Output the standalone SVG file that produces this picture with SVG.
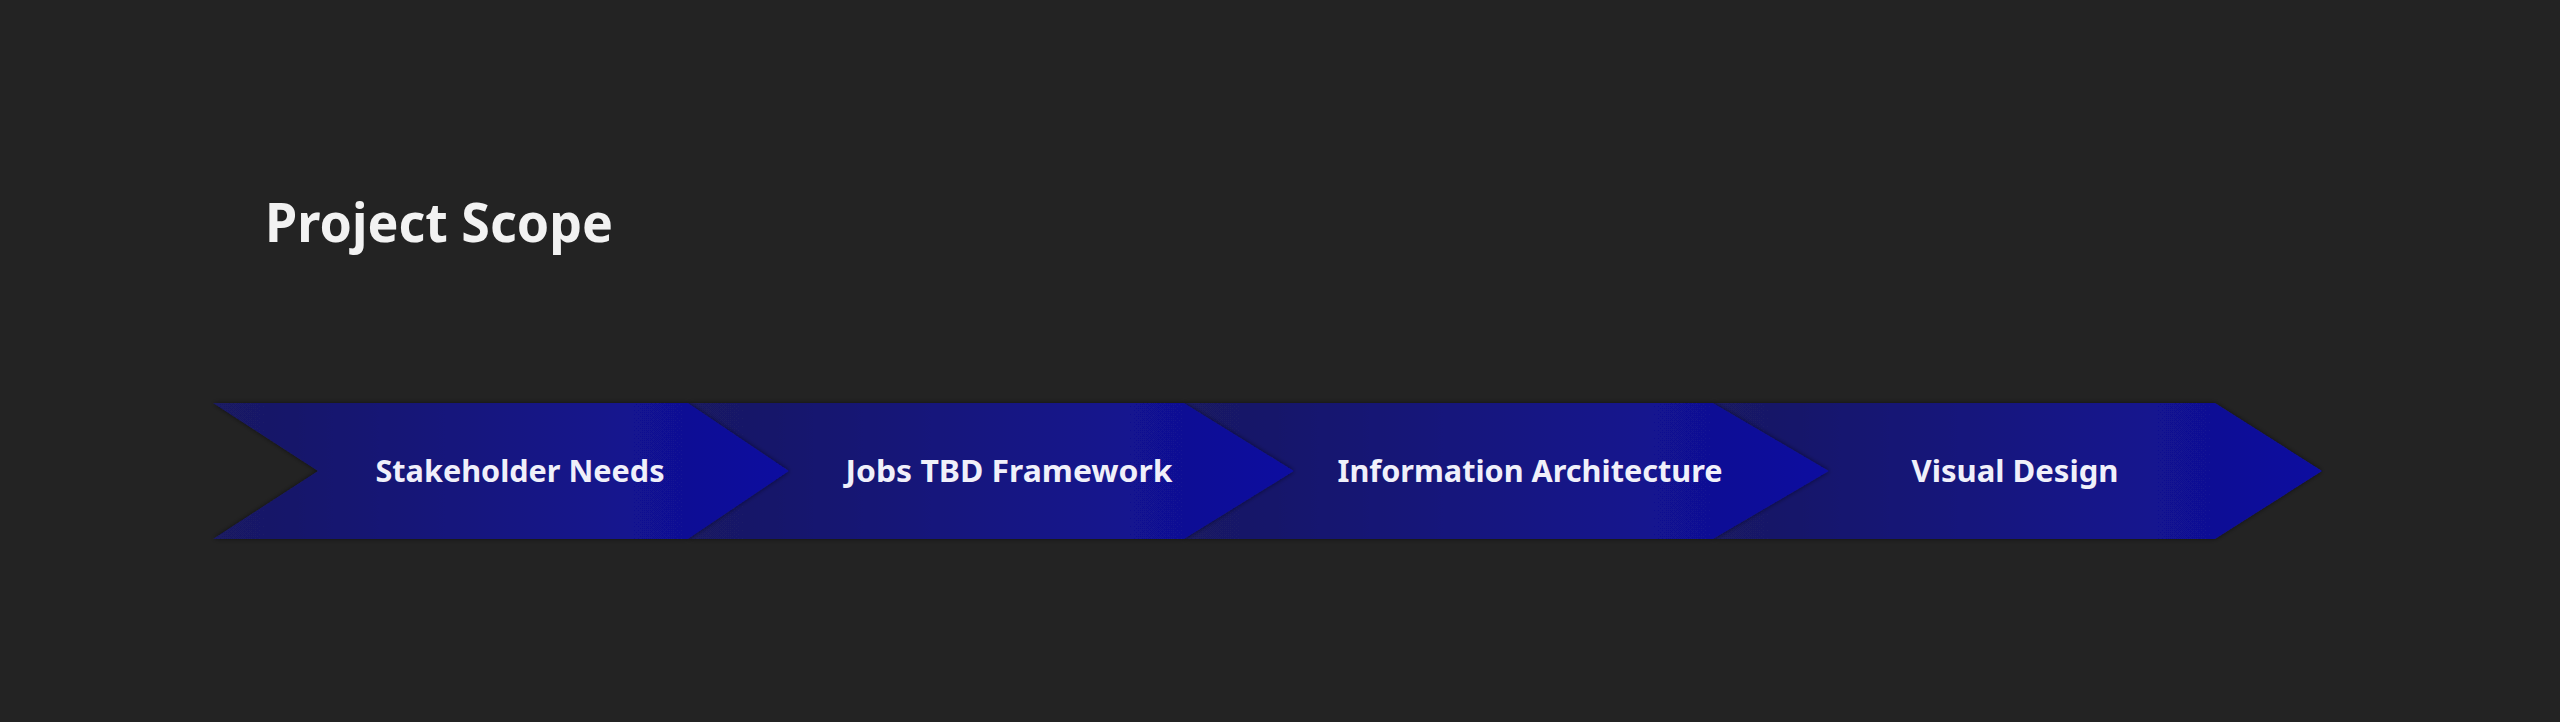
<svg xmlns="http://www.w3.org/2000/svg" width="2560" height="722" viewBox="0 0 2560 722">
  <defs>
    <style>
      .title { font-family: "Noto Sans", "Open Sans", "Liberation Sans", sans-serif; font-weight: 700; font-size: 54px; fill: #f2f2f2; }
      .label { font-family: "Noto Sans", "Open Sans", "Liberation Sans", sans-serif; font-weight: 700; font-size: 31px; fill: #f0f0fa; text-anchor: middle; }
      .chev { filter: url(#shadow); }
    </style>
    <filter id="shadow" x="-5%" y="-20%" width="110%" height="140%">
      <feDropShadow dx="0" dy="0" stdDeviation="2.5" flood-color="#000000" flood-opacity="0.55"/>
    </filter>
    <linearGradient id="g1" gradientUnits="userSpaceOnUse" x1="213" y1="0" x2="789" y2="0">
      <stop offset="0" stop-color="#1a1a62"/>
      <stop offset="1" stop-color="#0f0fa0"/>
    </linearGradient>
    <linearGradient id="g2" gradientUnits="userSpaceOnUse" x1="688" y1="0" x2="1294" y2="0">
      <stop offset="0" stop-color="#1a1a62"/>
      <stop offset="1" stop-color="#0f0fa0"/>
    </linearGradient>
    <linearGradient id="g3" gradientUnits="userSpaceOnUse" x1="1184" y1="0" x2="1829" y2="0">
      <stop offset="0" stop-color="#1a1a62"/>
      <stop offset="1" stop-color="#0f0fa0"/>
    </linearGradient>
    <linearGradient id="g4" gradientUnits="userSpaceOnUse" x1="1713" y1="0" x2="2322" y2="0">
      <stop offset="0" stop-color="#1a1a62"/>
      <stop offset="1" stop-color="#0f0fa0"/>
    </linearGradient>
  </defs>
  <rect x="0" y="0" width="2560" height="722" fill="#232323"/>
  <text class="title" x="265" y="242" textLength="348" lengthAdjust="spacingAndGlyphs">Project Scope</text>
  <g id="connectors"></g>
  <g id="node-visual-design">
    <polygon class="chev" fill="url(#g4)" points="1713,403 2215,403 2322,471 2215,539 1713,539 1829,471"/>
    <text class="label" x="2015" y="482" textLength="207" lengthAdjust="spacingAndGlyphs">Visual Design</text>
  </g>
  <g id="node-information-architecture">
    <polygon class="chev" fill="url(#g3)" points="1184,403 1713,403 1829,471 1713,539 1184,539 1294,471"/>
    <text class="label" x="1530" y="482" textLength="385" lengthAdjust="spacingAndGlyphs">Information Architecture</text>
  </g>
  <g id="node-jobs-tbd-framework">
    <polygon class="chev" fill="url(#g2)" points="688,403 1184,403 1294,471 1184,539 688,539 789,471"/>
    <text class="label" x="1009" y="482" textLength="327" lengthAdjust="spacingAndGlyphs">Jobs TBD Framework</text>
  </g>
  <g id="node-stakeholder-needs">
    <polygon class="chev" fill="url(#g1)" points="213,403 688,403 789,471 688,539 213,539 318,471"/>
    <text class="label" x="520" y="482" textLength="289" lengthAdjust="spacingAndGlyphs">Stakeholder Needs</text>
  </g>
</svg>
